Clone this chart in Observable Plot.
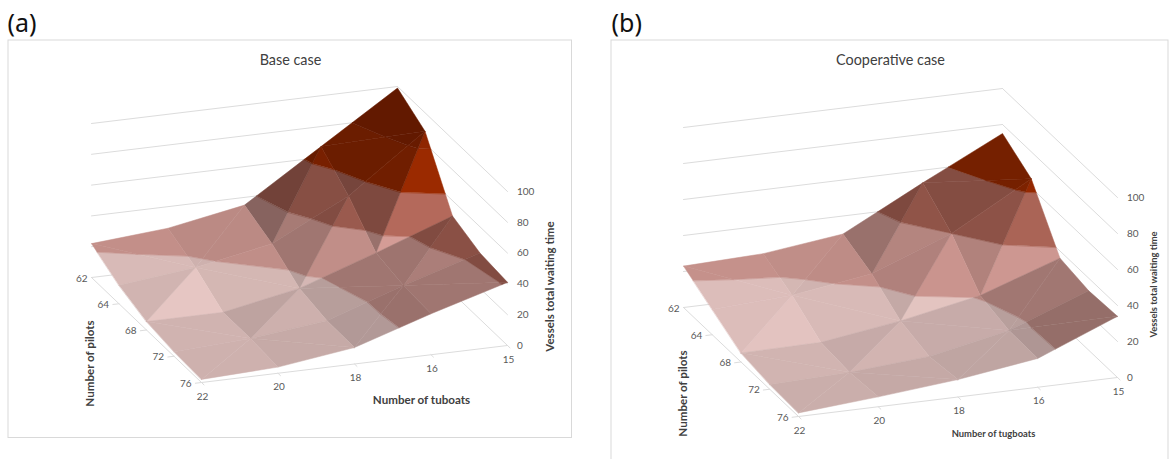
<!DOCTYPE html>
<html>
<head>
<meta charset="utf-8">
<style>
html,body{margin:0;padding:0;background:#fff}
svg{display:block}
</style>
<script src="https://cdn.jsdelivr.net/npm/d3@7"></script>
<script src="https://cdn.jsdelivr.net/npm/@observablehq/plot@0.6"></script>
</head>
<body>
<div id="chart"></div>
<script>
// ---- data ----
const tugboats = [22, 20, 18, 16, 15];
const pilots = [76, 72, 68, 64, 62];
const waitingTicks = [0, 20, 40, 60, 80, 100];

// rows: pilots 76..62, columns: tugboats 22..15
const baseCase76 = [2, 4, 10.7, 26.6, 41];
const baseCase72 = [3, 5.5, 11, 28, 43];
const baseCase68 = [5.5, 5.5, 15, 32, 50];
const baseCase64 = [12, 17.5, 27, 52, 88];
const baseCase62 = [22, 26, 35, 67, 99];

const coop76 = [2, 5.5, 9.7, 16, 34];
const coop72 = [2.6, 4, 7.4, 16.4, 33];
const coop68 = [5, 5.5, 12, 20.7, 36];
const coop64 = [14, 16.5, 23, 40, 65];
const coop62 = [23, 24.5, 30, 53, 75];

// ---- chart style: band colours and view of each 3-D box ----
const bandLevels = [0, 20, 40, 60, 80, 100];
const bandColors = [[208,179,176],[190,140,134],[150,88,76],[132,36,0],[122,32,0]];
const gainLit = [0.009, 0.006, 0.010, 0.009, 0.009];
const gainShaded = [0.009, 0.012, 0.010, 0.009, 0.009];
const flippedCells = ["2,3", "3,2", "3,3"];
const mergeBelow = 6;

const views = [
  {grid:[baseCase76,baseCase72,baseCase68,baseCase64,baseCase62],
   origin:[201,382], stepTug:[76.5,-9.25], stepPilot:[-27.5,-26.25], unit:1.54,
   title:"Base case", titleAt:[290,60], tag:"(a)", tagAt:[7,23],
   frame:[8,40,571.5,437.5],
   pilotTitle:[90,363,11.6], waitTitle:[550,286,11.5], tugTitle:["Number of tuboats",421,400,11.6]},
  {grid:[coop76,coop72,coop68,coop64,coop62],
   origin:[798,416], stepTug:[79.75,-9.75], stepPilot:[-28.75,-27.25], unit:1.8,
   title:"Cooperative case", titleAt:[890,60], tag:"(b)", tagAt:[611,23],
   frame:[611,40,1168,480],
   pilotTitle:[683,393,11.6], waitTitle:[1153,284,9.4], tugTitle:["Number of tugboats",993,433,9.4]}
];

// ---- helpers ----
function projector(v){
  return (i,j,z)=>[
    v.origin[0]+v.stepTug[0]*i+v.stepPilot[0]*j,
    v.origin[1]+v.stepTug[1]*i+v.stepPilot[1]*j-v.unit*z
  ];
}
function clip(poly,level,keepAbove){
  const out=[];
  poly.forEach((a,n)=>{
    const b=poly[(n+1)%poly.length];
    const ina=keepAbove? a[2]>=level : a[2]<=level;
    const inb=keepAbove? b[2]>=level : b[2]<=level;
    if(ina) out.push(a);
    if(ina!==inb){
      const t=(level-a[2])/(b[2]-a[2]);
      out.push([a[0]+t*(b[0]-a[0]),a[1]+t*(b[1]-a[1]),level]);
    }
  });
  return out;
}
function shadeOf(tri){
  const [a,b,c]=tri;
  const d1=[b[0]-a[0],b[1]-a[1],b[2]-a[2]], d2=[c[0]-a[0],c[1]-a[1],c[2]-a[2]];
  const det=d1[0]*d2[1]-d1[1]*d2[0];
  const dzdi=(d1[2]*d2[1]-d2[2]*d1[1])/det;
  const dzdj=(d1[0]*d2[2]-d2[0]*d1[2])/det;
  return dzdj-dzdi;
}
function colorOf(band,s){
  const gain=s>0?gainLit[band]:gainShaded[band];
  const f=Math.max(0.55,1+gain*s);
  const [r,g,b]=bandColors[band];
  return `rgb(${Math.min(255,r*f)|0},${Math.min(255,g*f)|0},${Math.min(255,b*f)|0})`;
}

const facets=[], gridRows=[], labels=[];
let pid=0, lid=0;
function seg(p,q){const id=lid++;gridRows.push({id,x:p[0],y:p[1]},{id,x:q[0],y:q[1]});}

views.forEach(v=>{
  const P=projector(v), G=v.grid;
  const last=4;
  waitingTicks.forEach(z=>{
    seg(P(0,last,z),P(last,last,z));
    seg(P(last,last,z),P(last,0,z));
  });
  seg(P(0,0,0),P(last,0,0));
  seg(P(0,0,0),P(0,last,0));
  tugboats.forEach((t,i)=>{ seg(P(i,0,0),P(i,-0.09,0));
    const q=P(i,0,0); labels.push({x:q[0]+1,y:q[1]+14,text:String(t),anchor:"middle"});});
  pilots.forEach((p,j)=>{ if(j<last) seg(P(0,j,0),P(-0.08,j,0));
    const q=P(0,j,0); labels.push({x:q[0]-(j===last?4:10),y:q[1]+1,text:String(p),anchor:"end"});});
  waitingTicks.forEach(z=>{const q=P(last,0,z); labels.push({x:q[0]+9.5,y:q[1],text:String(z),anchor:"start"});});

  const cells=[];
  for(let i=0;i<last;i++) for(let j=0;j<last;j++) cells.push([i,j]);
  cells.sort((a,b)=>(b[0]+b[1])-(a[0]+a[1]));
  cells.forEach(([i,j])=>{
    const V=(a,b)=>[a,b,G[b][a]];
    const even=(i+j)%2===0, flip=flippedCells.includes(i+","+j);
    const tris=(even!==flip)
      ? [[V(i,j),V(i+1,j),V(i+1,j+1)],[V(i,j),V(i+1,j+1),V(i,j+1)]]
      : [[V(i,j),V(i+1,j),V(i,j+1)],[V(i+1,j),V(i+1,j+1),V(i,j+1)]];
    let shades=tris.map(shadeOf);
    if(Math.abs(shades[0]-shades[1])<mergeBelow && Math.max(shades[0],shades[1])<2){
      const m=(shades[0]+shades[1])/2; shades=[m,m];
    }
    tris.forEach((tri,n)=>{
      const s=shades[n];
      bandColors.forEach((_,b)=>{
        let poly=clip(tri,bandLevels[b],true);
        if(poly.length) poly=clip(poly,bandLevels[b+1],false);
        if(poly.length<3) return;
        const id=pid++, color=colorOf(b,s);
        poly.forEach(p=>{const q=P(p[0],p[1],p[2]);facets.push({id,x:q[0],y:q[1],color});});
      });
    });
  });
});

const ink="#595959";
const titleRows=views.map(v=>({x:v.titleAt[0],y:v.titleAt[1],text:v.title}));
const tagRows=views.map(v=>({x:v.tagAt[0],y:v.tagAt[1],text:v.tag}));
const frameRows=views.map(v=>({x1:v.frame[0],y1:v.frame[1],x2:v.frame[2],y2:v.frame[3]}));
const boldRows=views.flatMap(v=>[
  {x:v.pilotTitle[0],y:v.pilotTitle[1],size:v.pilotTitle[2],rot:-90,text:"Number of pilots"},
  {x:v.waitTitle[0],y:v.waitTitle[1],size:v.waitTitle[2],rot:-90,text:"Vessels total waiting time"},
  {x:v.tugTitle[1],y:v.tugTitle[2],size:v.tugTitle[3],rot:0,text:v.tugTitle[0]}
]);
const boldMarks=boldRows.map(r=>Plot.text([r],{x:"x",y:"y",text:"text",fontSize:r.size,fontWeight:700,rotate:r.rot,fill:"#404040"}));
const labelMarks=["start","middle","end"].map(a=>Plot.text(labels.filter(d=>d.anchor===a),
  {x:"x",y:"y",text:"text",fontSize:10,textAnchor:a,fill:ink}));

const chart=Plot.plot({
  width:1169,height:459,margin:0,
  style:{fontFamily:"Lato, 'Open Sans', sans-serif",background:"#fff"},
  x:{domain:[0,1169],range:[0,1169],axis:null},
  y:{domain:[0,459],range:[0,459],axis:null},
  color:{type:"identity"},
  marks:[
    Plot.rect(frameRows,{x1:"x1",x2:"x2",y1:"y1",y2:"y2",fill:"none",stroke:"#d9d9d9",strokeWidth:1}),
    Plot.line(gridRows,{x:"x",y:"y",z:"id",stroke:"#dcdcdc",strokeWidth:1}),
    Plot.line(facets,{x:"x",y:"y",z:"id",fill:"color",stroke:"color",strokeWidth:0.5,curve:"linear-closed"}),
    ...labelMarks,
    ...boldMarks,
    Plot.text(titleRows,{x:"x",y:"y",text:"text",fontSize:14.4,fill:"#404040"}),
    Plot.text(tagRows,{x:"x",y:"y",text:"text",fontSize:25,fontFamily:"'Noto Sans'",textAnchor:"start",fill:"#111"})
  ]
});
document.getElementById("chart").appendChild(chart);
</script>
</body>
</html>
